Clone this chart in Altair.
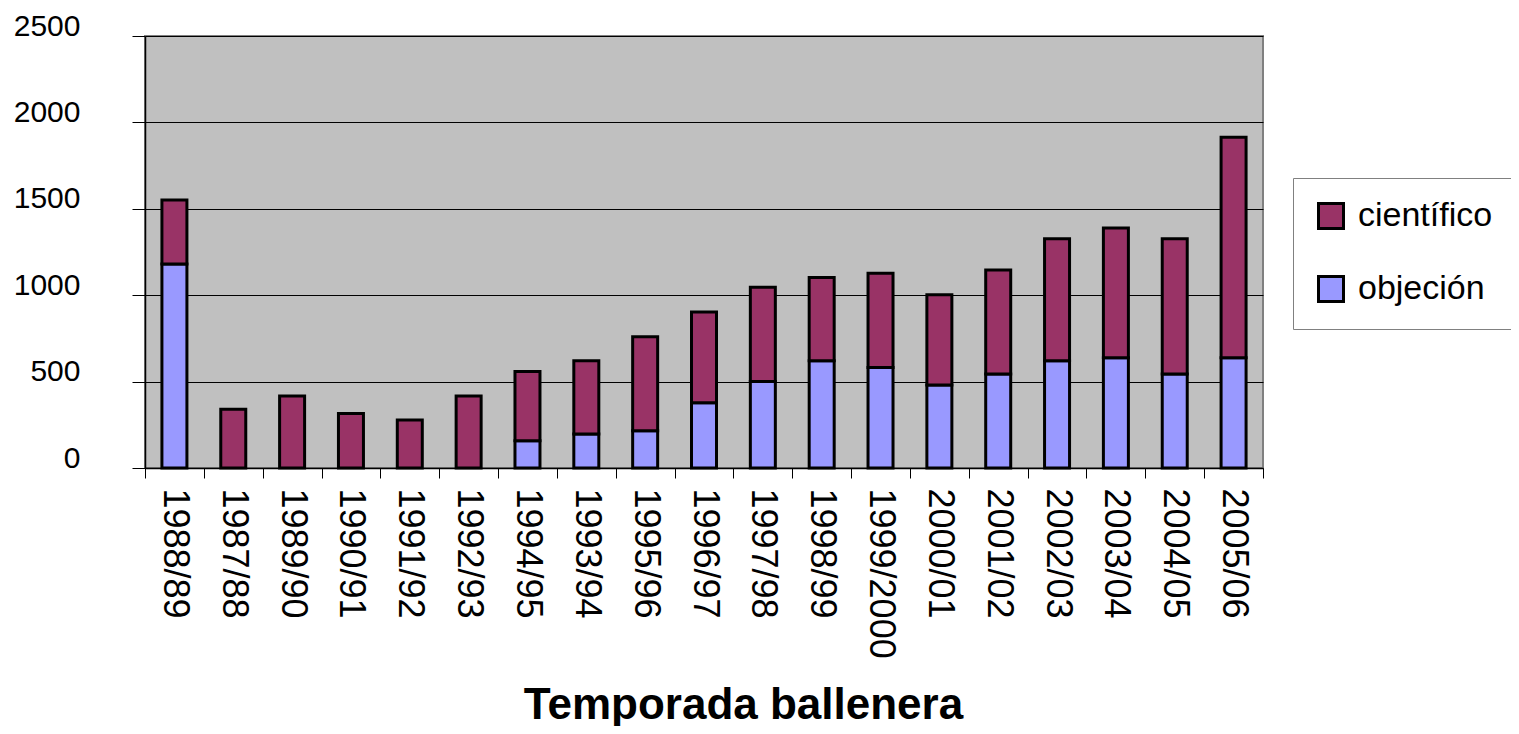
import altair as alt
import pandas as pd

temporadas = ["1988/89", "1987/88", "1989/90", "1990/91", "1991/92", "1992/93",
              "1994/95", "1993/94", "1995/96", "1996/97", "1997/98", "1998/99",
              "1999/2000", "2000/01", "2001/02", "2002/03", "2003/04", "2004/05", "2005/06"]
objecion = [1180, 0, 0, 0, 0, 0, 158, 197, 216, 378, 500, 621, 581, 480, 544, 621, 638, 544, 638]
cientifico = [371, 340, 417, 316, 278, 417, 401, 424, 544, 525, 546, 482, 546, 523, 602, 706, 751, 783, 1276]
series = ["científico", "objeción"]
colores = ["#993366", "#9999FF"]
y_ticks = [0, 500, 1000, 1500, 2000, 2500]

rows = []
for t, o, c in zip(temporadas, objecion, cientifico):
    rows.append({"temporada": t, "serie": "objeción", "valor": o, "orden": 0})
    rows.append({"temporada": t, "serie": "científico", "valor": c, "orden": 1})
df = pd.DataFrame(rows)

FONT = "Liberation Sans"

chart = alt.Chart(df).transform_filter("datum.valor > 0").mark_bar(
    size=25, stroke="black", strokeWidth=3
).encode(
    x=alt.X("temporada:N", sort=temporadas,
            scale=alt.Scale(paddingInner=0, paddingOuter=0),
            axis=alt.Axis(title="Temporada ballenera", labelAngle=90, labelAlign="left",
                          labelBaseline="middle", labelFontSize=36, labelFont=FONT,
                          labelColor="black", labelPadding=10, tickBand="extent",
                          tickSize=10, tickColor="black", domainColor="black",
                          domainWidth=1.5, labelOverlap=False,
                          titleFont=FONT, titleFontSize=44, titleFontWeight="bold",
                          titleColor="black", titleX=598, titleY=250,
                          titleAlign="center", titleBaseline="alphabetic")),
    y=alt.Y("valor:Q", stack="zero",
            scale=alt.Scale(domain=[0, 2500], nice=False),
            axis=alt.Axis(title=None, values=y_ticks, format="d", labelFontSize=30,
                          labelFont=FONT, labelColor="black", tickSize=13,
                          tickColor="black", labelPadding=52, labelOffset=-10,
                          domainColor="black", domainWidth=1.5, gridColor="black",
                          gridWidth=1)),
    color=alt.Color("serie:N", scale=alt.Scale(domain=series, range=colores),
                    legend=alt.Legend(title=None, orient="none", legendX=1148, legendY=142,
                                      fillColor="white", strokeColor="#808080",
                                      padding=21, rowPadding=35, symbolType="square",
                                      symbolSize=625, symbolStrokeColor="black",
                                      symbolStrokeWidth=3, symbolOpacity=1,
                                      labelFontSize=34, labelFont=FONT, labelColor="black",
                                      labelOffset=10, labelLimit=300)),
    order=alt.Order("orden:Q"),
).properties(
    width=1118, height=432,
    padding={"left": 137, "top": 28, "right": 248, "bottom": 258},
    autosize=alt.AutoSizeParams(type="none"),
).configure_view(
    fill="#C0C0C0", stroke="#808080", strokeWidth=2
)

chart.save("out.html", embed_options={"renderer": "svg", "actions": False})
